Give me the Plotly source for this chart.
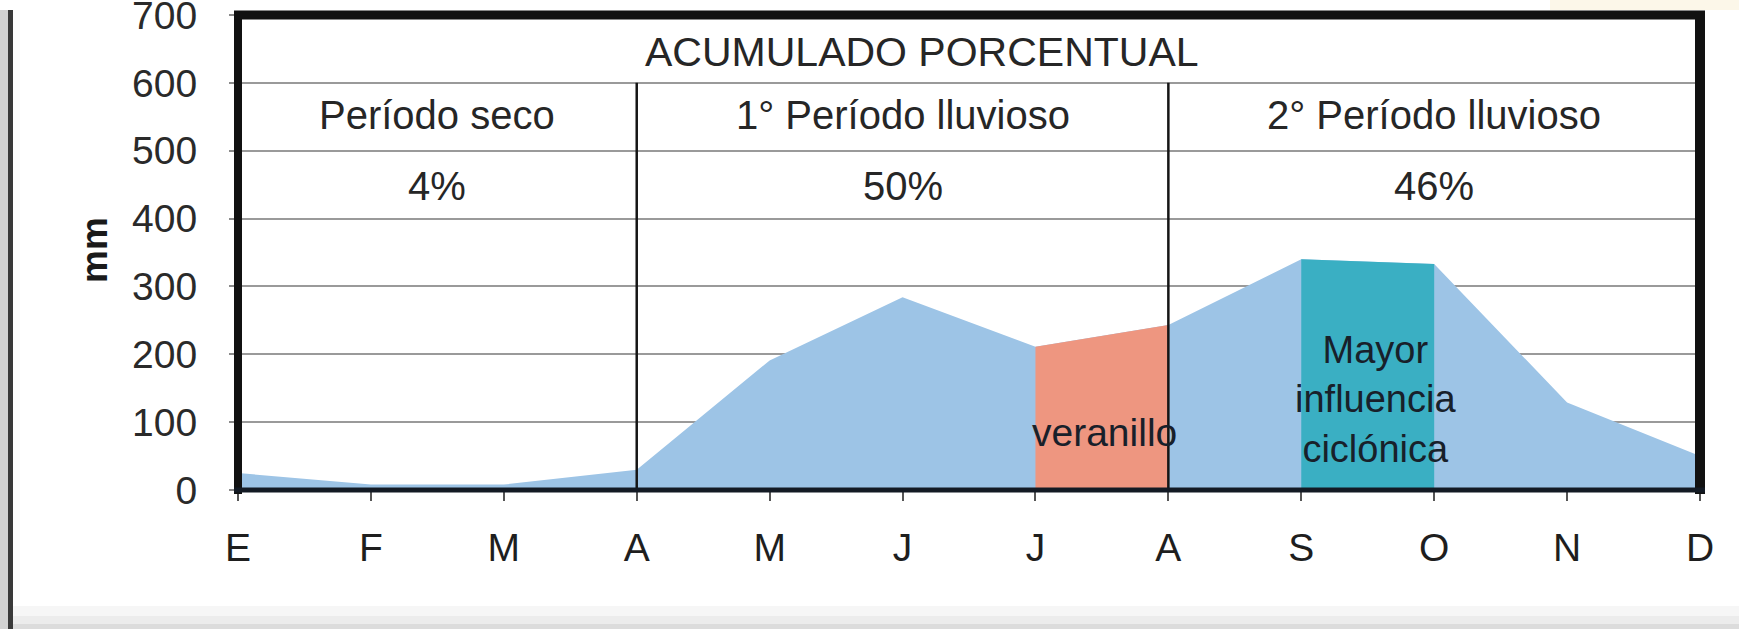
import plotly.graph_objects as go

# Monthly rainfall (mm)
meses = ["E", "F", "M", "A", "M", "J", "J", "A", "S", "O", "N", "D"]
lluvia = [25, 8, 8, 30, 191, 284, 211, 243, 340, 333, 129, 50]

# Seasonal periods: boundaries (month index), names and cumulative share
limites = [0, 3, 7, 11]
periodos = ["Período seco", "1° Período lluvioso", "2° Período lluvioso"]
porcentajes = ["4%", "50%", "46%"]

# Highlighted spans (start/end month index)
veranillo = (6, 7)
ciclonica = (8, 9)

COL_AREA = "#9dc4e6"
COL_VERANILLO = "#ee9680"
COL_CICLON = "#3aafc3"
FONT = "Liberation Sans, Arial, sans-serif"

x = list(range(len(meses)))

fig = go.Figure()
fig.add_trace(go.Scatter(x=x, y=lluvia, mode="lines", fill="tozeroy",
                         fillcolor=COL_AREA, line=dict(width=0, color=COL_AREA),
                         hoverinfo="skip", showlegend=False))
a, b = veranillo
fig.add_trace(go.Scatter(x=x[a:b + 1], y=lluvia[a:b + 1], mode="lines", fill="tozeroy",
                         fillcolor=COL_VERANILLO, line=dict(width=0, color=COL_VERANILLO),
                         hoverinfo="skip", showlegend=False))
a, b = ciclonica
fig.add_trace(go.Scatter(x=x[a:b + 1], y=lluvia[a:b + 1], mode="lines", fill="tozeroy",
                         fillcolor=COL_CICLON, line=dict(width=0, color=COL_CICLON),
                         hoverinfo="skip", showlegend=False))

# Plot box in pixels
L, PW, B, PH = 238, 1462, 490, 475


def px(v):
    return (v - L) / PW


def py(v):
    return (B - v) / PH


shapes = []
# Period dividers
for xv in limites[1:-1]:
    shapes.append(dict(type="line", xref="x", yref="y", x0=xv, x1=xv, y0=0, y1=600,
                       line=dict(color="#151515", width=2.5), layer="above"))
# Frame: left, top, right heavy borders and dark baseline
shapes += [
    dict(type="line", xref="paper", yref="paper", x0=0, x1=0, y0=py(494), y1=py(11),
         line=dict(color="#111111", width=8), layer="above"),
    dict(type="line", xref="paper", yref="paper", x0=px(234), x1=px(1705), y0=1, y1=1,
         line=dict(color="#111111", width=9), layer="above"),
    dict(type="line", xref="paper", yref="paper", x0=1, x1=1, y0=py(494), y1=py(11),
         line=dict(color="#111111", width=10), layer="above"),
    dict(type="line", xref="paper", yref="paper", x0=px(234), x1=px(1705), y0=0, y1=0,
         line=dict(color="#131a24", width=5), layer="above"),
]

# Page decorations: left gray strip with dark rule, faint bottom band
shapes += [
    dict(type="rect", xref="paper", yref="paper", x0=px(0), x1=px(8), y0=py(629), y1=py(10),
         fillcolor="#d2d2d2", line=dict(width=0), layer="below"),
    dict(type="rect", xref="paper", yref="paper", x0=px(8), x1=px(13), y0=py(629), y1=py(10),
         fillcolor="#3a3a3a", line=dict(width=0), layer="below"),
    dict(type="rect", xref="paper", yref="paper", x0=px(13), x1=px(1739), y0=py(629), y1=py(606),
         fillcolor="#f6f6f6", line=dict(width=0), layer="below"),
    dict(type="rect", xref="paper", yref="paper", x0=px(13), x1=px(1739), y0=py(629), y1=py(616),
         fillcolor="#ececec", line=dict(width=0), layer="below"),
    dict(type="rect", xref="paper", yref="paper", x0=px(13), x1=px(1739), y0=py(629), y1=py(624),
         fillcolor="#dcdcdc", line=dict(width=0), layer="below"),
    dict(type="rect", xref="paper", yref="paper", x0=px(1550), x1=px(1739), y0=py(10), y1=py(0),
         fillcolor="#fcf7e9", line=dict(width=0), layer="below"),
]

annotations = []
txt = dict(family=FONT, size=40, color="#262626")
annotations.append(dict(x=5.15, y=645, xref="x", yref="y", text="ACUMULADO PORCENTUAL",
                        showarrow=False, font=dict(family=FONT, size=41, color="#262626")))
for i, (nombre, pct) in enumerate(zip(periodos, porcentajes)):
    xm = (limites[i] + limites[i + 1]) / 2
    annotations.append(dict(x=xm, y=553, xref="x", yref="y", text=nombre,
                            showarrow=False, font=txt))
    annotations.append(dict(x=xm, y=448, xref="x", yref="y", text=pct,
                            showarrow=False, font=txt))

dark = dict(family=FONT, size=39, color="#18202a")
annotations.append(dict(x=6.52, y=85, xref="x", yref="y", text="veranillo",
                        showarrow=False, font=dark))
annotations.append(dict(x=8.56, y=134, xref="x", yref="y",
                        text="Mayor<br>influencia<br>ciclónica",
                        showarrow=False, font=dict(family=FONT, size=38, color="#18202a")))
annotations.append(dict(x=px(94), y=py(250), xref="paper", yref="paper", text="<b>mm</b>",
                        textangle=-90, showarrow=False, xanchor="center", yanchor="middle",
                        font=dict(family=FONT, size=37, color="#1a1a1a")))

fig.update_layout(
    width=1739, height=629,
    margin=dict(l=L, r=1739 - L - PW, t=B - PH, b=629 - B, autoexpand=False),
    paper_bgcolor="white", plot_bgcolor="white",
    shapes=shapes, annotations=annotations,
    showlegend=False,
    xaxis=dict(range=[0, 11], tickvals=x, ticktext=meses, showgrid=False,
               zeroline=False, showline=False, ticks="outside", ticklen=10,
               tickwidth=2, tickcolor="#555555", ticklabelstandoff=13, automargin=False,
               tickfont=dict(family=FONT, size=39, color="#1e1e1e")),
    yaxis=dict(range=[0, 700], tickvals=[0, 100, 200, 300, 400, 500, 600, 700],
               showgrid=True, gridcolor="#9a9a9a", gridwidth=2, zeroline=False,
               showline=False, ticks="outside", ticklen=8, tickwidth=2, automargin=False,
               tickcolor="#8a8a8a", ticklabelstandoff=24, ticklabeloverflow="allow",
               tickfont=dict(family=FONT, size=39, color="#2a2a2a")),
)

fig.write_html("out.html")
